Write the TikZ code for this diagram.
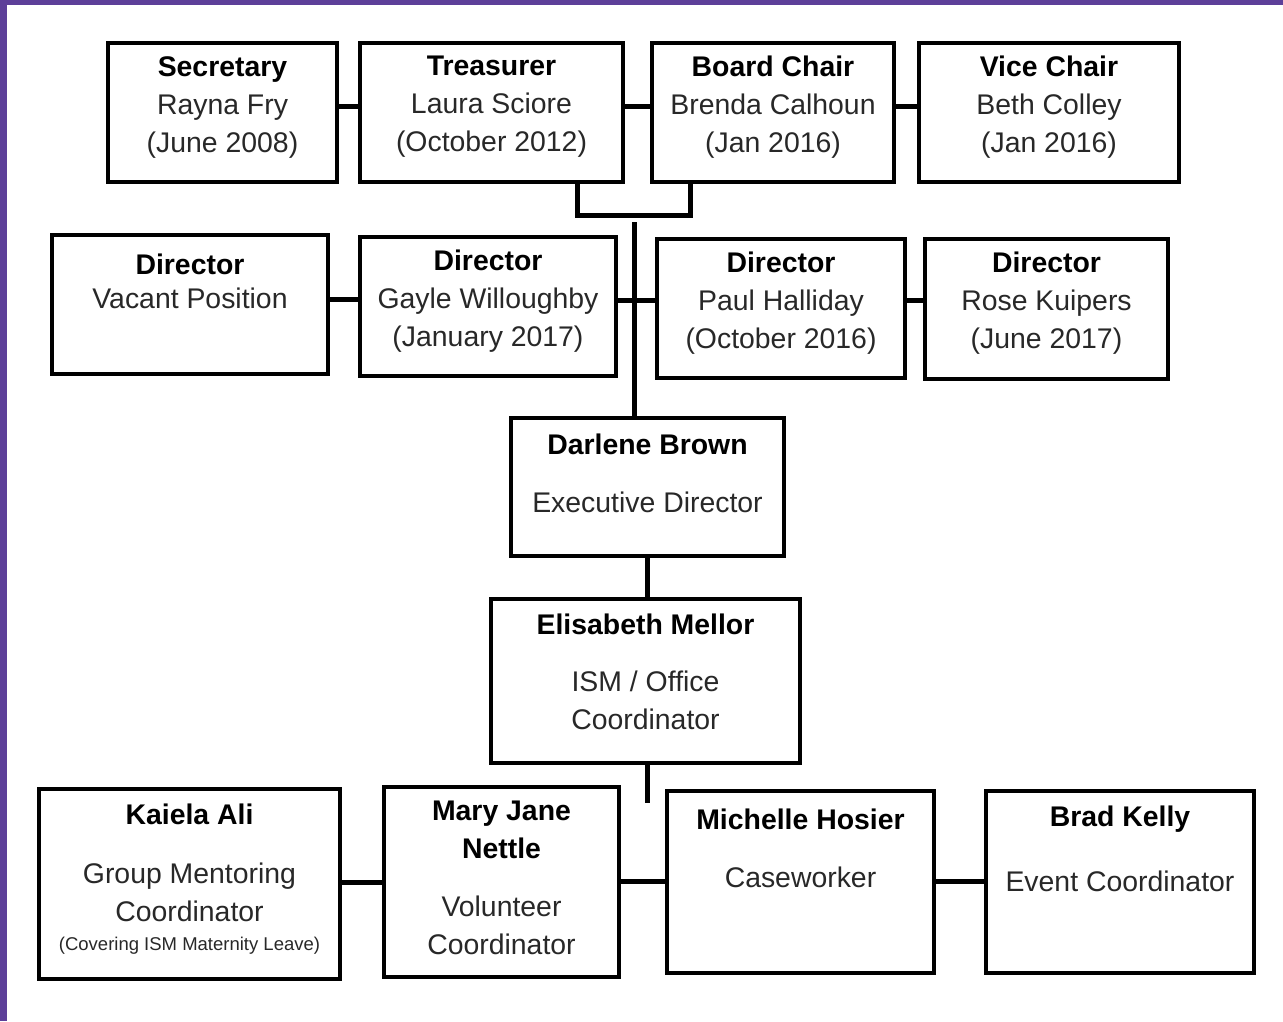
\documentclass[tikz,border=0pt]{standalone}
\usepackage{fontspec}
\setmainfont{Liberation Sans}
\usetikzlibrary{calc}
\definecolor{frame}{RGB}{93,63,153}
\definecolor{txt}{RGB}{40,40,40}
\begin{document}
\begin{tikzpicture}[x=1pt,y=-1pt,
  box/.style={draw=black,line width=4pt,inner sep=0pt,rectangle},
  conn/.style={draw=black,line width=5pt},
  lbl/.style={anchor=north,inner sep=0pt,align=center,text=txt,font=\fontsize{28.4}{38}\selectfont}]
\fill[white] (0,0) rectangle (1283,1021);
\useasboundingbox (0,0) rectangle (1283,1021);
\fill[frame] (0,0) rectangle (7,1021);
\fill[frame] (0,0) rectangle (1283,4.5);
% row 1
\node[box,minimum width=229pt,minimum height=139pt] (sec) at (222.5,112.5) {};
\node[box,minimum width=263pt,minimum height=139pt] (tre) at (491.5,112.5) {};
\node[box,minimum width=242pt,minimum height=139pt] (brd) at (773,112.5) {};
\node[box,minimum width=260pt,minimum height=139pt] (vice) at (1049,112.5) {};
\node[lbl] (tsec) at (222.5,56) {{\bfseries\color{black}Secretary}\\Rayna Fry\\(June 2008)};
\node[lbl] (ttre) at (491.5,56) {{\bfseries\color{black}Treasurer}\\Laura Sciore\\(October 2012)};
\node[lbl] (tbrd) at (773,56) {{\bfseries\color{black}Board Chair}\\Brenda Calhoun\\(Jan 2016)};
\node[lbl] (tvice) at (1049,56) {{\bfseries\color{black}Vice Chair}\\Beth Colley\\(Jan 2016)};
% row 2
\node[box,minimum width=276pt,minimum height=139pt] (vac) at (190,304.5) {};
\node[box,minimum width=256pt,minimum height=139pt] (gay) at (488,306.5) {};
\node[box,minimum width=248pt,minimum height=139pt] (paul) at (781,308.5) {};
\node[box,minimum width=243pt,minimum height=140pt] (rose) at (1046.5,309) {};
\node[lbl,font=\fontsize{28.4}{34}\selectfont] (tvac) at (190,254) {{\bfseries\color{black}Director}\\Vacant Position};
\node[lbl] (tgay) at (488,250) {{\bfseries\color{black}Director}\\Gayle Willoughby\\(January 2017)};
\node[lbl] (tpaul) at (781,252) {{\bfseries\color{black}Director}\\Paul Halliday\\(October 2016)};
\node[lbl] (trose) at (1046.5,252) {{\bfseries\color{black}Director}\\Rose Kuipers\\(June 2017)};
% middle
\node[box,minimum width=273pt,minimum height=138pt] (dar) at (647.5,487) {};
\node[lbl] (tdar) at (647.5,434) {{\bfseries\color{black}Darlene Brown}\\[20pt]Executive Director};
\node[box,minimum width=309pt,minimum height=164pt] (eli) at (645.5,681) {};
\node[lbl] (teli) at (645.5,614) {{\bfseries\color{black}Elisabeth Mellor}\\[19pt]ISM / Office\\Coordinator};
% row 3
\node[box,minimum width=301pt,minimum height=190pt] (kai) at (189.5,884) {};
\node[box,minimum width=235pt,minimum height=190pt] (mary) at (501.5,882) {};
\node[box,minimum width=267pt,minimum height=182pt] (mich) at (800.5,882) {};
\node[box,minimum width=268pt,minimum height=182pt] (brad) at (1120,882) {};
\node[lbl] (tkai) at (189.5,804) {{\bfseries\color{black}Kaiela Ali}\\[21pt]Group Mentoring\\Coordinator\\[-9pt]{\fontsize{18.5}{20}\selectfont(Covering ISM Maternity Leave)}};
\node[lbl] (tmary) at (501.5,801) {{\bfseries\color{black}Mary Jane}\\{\bfseries\color{black}Nettle}\\[20pt]Volunteer\\Coordinator};
\node[lbl] (tmich) at (800.5,809) {{\bfseries\color{black}Michelle Hosier}\\[20pt]Caseworker};
\node[lbl] (tbrad) at (1120,806) {{\bfseries\color{black}Brad Kelly}\\[27pt]Event Coordinator};
% connectors
\draw[conn] ([yshift=6.5pt]sec.east) -- ([yshift=6.5pt]tre.west);
\draw[conn] ([yshift=6.5pt]tre.east) -- ([yshift=6.5pt]brd.west);
\draw[conn] ([yshift=6.5pt]brd.east) -- ([yshift=6.5pt]vice.west);
\coordinate (bl) at (577,215);
\coordinate (br) at (690,215);
\draw[conn] (tre.south -| bl) -- (bl) -- (br) -- (brd.south -| br);
\coordinate (trunk) at (634,222);
\draw[conn] (trunk) -- (trunk |- dar.north);
\draw[conn] ([yshift=5pt]vac.east) -- ([yshift=5pt]vac.east -| gay.west);
\draw[conn] ([yshift=6.5pt]gay.east) -- ([yshift=6.5pt]gay.east -| paul.west);
\draw[conn] ([yshift=8.5pt]paul.east) -- ([yshift=8.5pt]paul.east -| rose.west);
\draw[conn] (dar.south) -- (dar.south |- eli.north);
\coordinate (stub) at (647,803);
\draw[conn] (stub |- eli.south) -- (stub);
\draw[conn] ([yshift=2pt]kai.east) -- ([yshift=2pt]kai.east -| mary.west);
\draw[conn] ([yshift=1pt]mary.east) -- ([yshift=1pt]mary.east -| mich.west);
\draw[conn] ([yshift=1pt]mich.east) -- ([yshift=1pt]mich.east -| brad.west);
\end{tikzpicture}
\end{document}
